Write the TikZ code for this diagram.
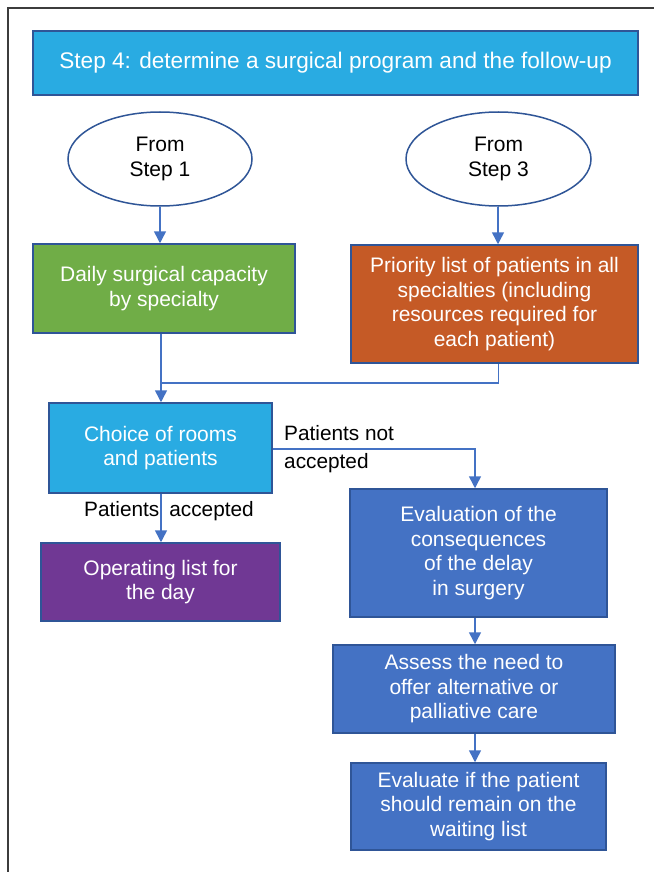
\documentclass[tikz,border=0pt]{standalone}
\usepackage{fontspec}
\setmainfont{Liberation Sans}
\usetikzlibrary{arrows.meta,shapes.geometric}
\definecolor{lblue}{RGB}{41,171,226}
\definecolor{bord}{RGB}{47,85,151}
\definecolor{gfill}{RGB}{112,173,71}
\definecolor{ofill}{RGB}{197,90,38}
\definecolor{pfill}{RGB}{112,56,148}
\definecolor{dblue}{RGB}{68,114,196}
\definecolor{arr}{RGB}{68,114,196}
\definecolor{framecol}{RGB}{60,60,60}
\tikzset{
  box/.style={draw=bord, line width=1.5pt, inner sep=0pt, align=center, text=white,
    font=\fontsize{21}{24.5}\selectfont},
  oval/.style={ellipse, draw=bord, line width=1.5pt, fill=white, inner sep=0pt, align=center,
    font=\fontsize{21}{24.5}\selectfont, minimum width=184pt, minimum height=94pt},
  lbl/.style={inner sep=0pt, font=\fontsize{20.8}{24.5}\selectfont, text=black},
  conn/.style={draw=arr, line width=1.5pt},
  arrw/.style={conn, -{Triangle[length=12pt,width=12pt]}}
}
\begin{document}
\begin{tikzpicture}[x=1pt,y=-1pt]
\useasboundingbox (0,0) rectangle (654,872);
\fill[white] (0,0) rectangle (654,872);
\draw[framecol, line width=1.5pt] (8,872) -- (8,8) -- (654,8);

\node[box, fill=lblue, minimum width=605pt, minimum height=64pt,
  font=\fontsize{22.6}{26}\selectfont] (head) at (335.5,63)
  {Step 4: determine a surgical program and the follow-up};

\node[oval] (e1) at (160,159) {From\\Step 1};
\node[oval, minimum width=185pt] (e2) at (498.5,159) {From\\Step 3};

\node[box, fill=gfill, minimum width=262pt, minimum height=89pt] (green) at (164,288.5)
  {Daily surgical capacity\\by specialty};
\node[box, fill=ofill, minimum width=287pt, minimum height=118pt] (orange) at (494.5,304)
  {Priority list of patients in all\\specialties (including\\resources required for\\each patient)};

\node[box, fill=lblue, minimum width=223pt, minimum height=90pt] (choice) at (160.5,448)
  {Choice of rooms\\and patients};
\node[box, fill=pfill, minimum width=239pt, minimum height=78pt] (oper) at (160.5,582)
  {Operating list for\\the day};

\node[box, fill=dblue, minimum width=257pt, minimum height=128pt] (evalc) at (478.5,553)
  {Evaluation of the\\consequences\\of the delay\\in surgery};
\node[box, fill=dblue, minimum width=282pt, minimum height=88pt] (assess) at (474,689)
  {Assess the need to\\offer alternative or\\palliative care};
\node[box, fill=dblue, minimum width=255pt, minimum height=87pt] (evalw) at (478.5,806.5)
  {Evaluate if the patient\\should remain on the\\waiting list};

\coordinate (j) at (161,383);
\coordinate (k) at (475,449);

\draw[arrw] (e1.south) -- (e1.south |- green.north);
\draw[arrw] ([xshift=-0.5pt]e2.south) -- ([xshift=-0.5pt]e2.south |- orange.north);
\draw[conn] (j |- green.south) -- (j);
\draw[conn] (e2.south |- orange.south) |- (j);
\draw[arrw] (j) -- (j |- choice.north);
\draw[arrw] (choice.east |- k) -- (k) -- (k |- evalc.north);
\draw[arrw] (j |- choice.south) -- (j |- oper.north);
\draw[arrw] (k |- evalc.south) -- (k |- assess.north);
\draw[arrw] (k |- assess.south) -- (k |- evalw.north);

\node[lbl, anchor=west, align=left] (lna) at (284,449) {Patients not\\[3.5pt]accepted};
\node[lbl, anchor=west] (la) at (84,511) {Patients\hspace{10pt}accepted};
\end{tikzpicture}
\end{document}
